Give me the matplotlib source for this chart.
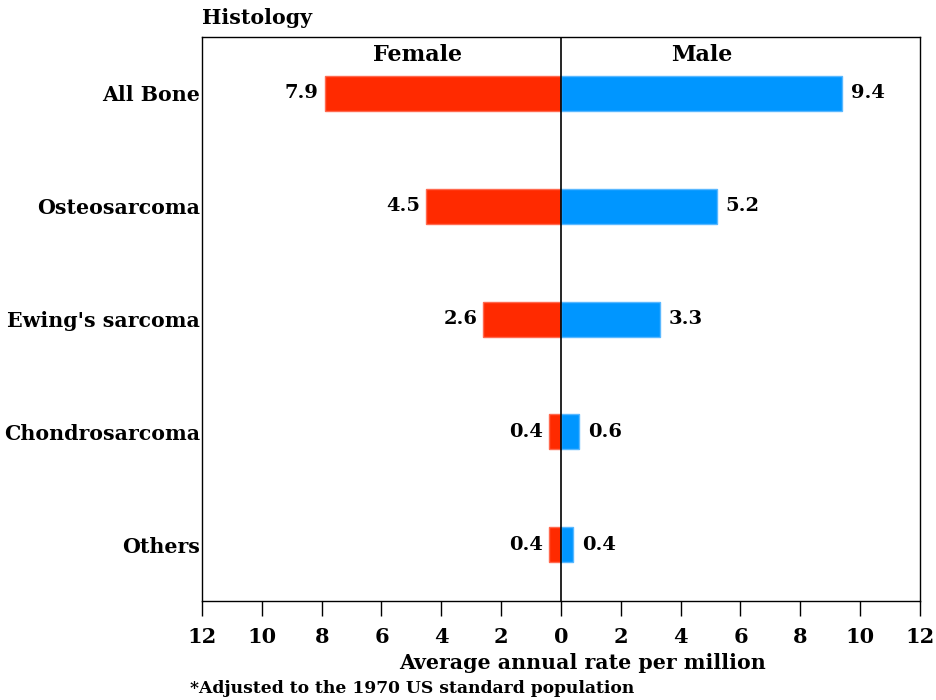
import matplotlib
matplotlib.use("Agg")
import matplotlib.pyplot as plt
import numpy as np

# data
histology = ["All Bone", "Osteosarcoma", "Ewing's sarcoma", "Chondrosarcoma", "Others"]
female = [7.9, 4.5, 2.6, 0.4, 0.4]
male = [9.4, 5.2, 3.3, 0.6, 0.4]
ticks = [-12, -10, -8, -6, -4, -2, 0, 2, 4, 6, 8, 10, 12]
tick_labels = [str(abs(t)) for t in ticks]

plt.rcParams['font.family'] = ['DejaVu Serif']
plt.rcParams['font.weight'] = 'bold'

fig = plt.figure(figsize=(9.37, 7), dpi=100)
ax = fig.add_axes([0.2156, 0.1414, 0.7662, 0.8057])

y = np.arange(len(histology))
h = 0.31
ax.barh(y, [-v for v in female], height=h, color="#ff2a00", edgecolor="#ff6a50", linewidth=1)
ax.barh(y, male, height=h, color="#0096ff", edgecolor="#5ab8ff", linewidth=1)
ax.axvline(0, color="black", linewidth=1.2)

for yi, f, m in zip(y, female, male):
    ax.text(-f - 0.2, yi, f"{f:.1f}", ha="right", va="center", fontsize=14, fontweight="bold")
    ax.text(m + 0.3, yi, f"{m:.1f}", ha="left", va="center", fontsize=14, fontweight="bold")

ax.text(-4.8, -0.34, "Female", ha="center", va="center", fontsize=16, fontweight="bold")
ax.text(4.7, -0.34, "Male", ha="center", va="center", fontsize=16, fontweight="bold")

ax.set_xlim(-12, 12)
ax.set_ylim(4.5, -0.5)
ax.set_xticks(ticks)
ax.set_xticklabels(tick_labels, fontsize=15, fontweight="bold")
ax.tick_params(axis="x", direction="out", length=11, width=1, pad=8)
ax.set_yticks(y)
ax.set_yticklabels(histology, fontsize=14.8, fontweight="bold")
ax.tick_params(axis="y", length=0, pad=1.5)
for s in ax.spines.values():
    s.set_linewidth(1)

fig.text(0.2156, 0.975, "Histology", ha="left", va="center", fontsize=14.8, fontweight="bold")
fig.text(0.622, 0.053, "Average annual rate per million", ha="center", va="center",
         fontsize=14.8, fontweight="bold")
fig.text(0.203, 0.017, "*Adjusted to the 1970 US standard population", ha="left", va="center",
         fontsize=12.3, fontweight="bold")

fig.savefig("out.png", dpi=100)
